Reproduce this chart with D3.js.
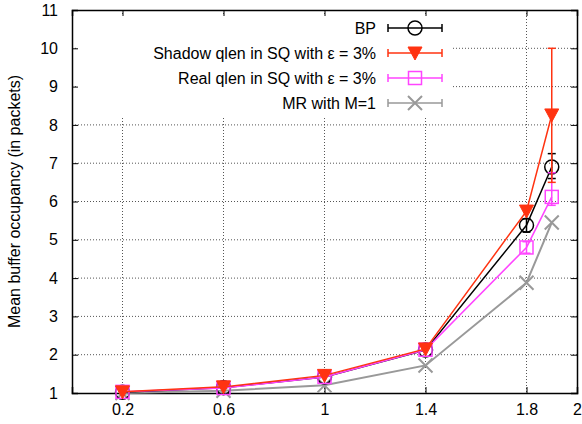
<!DOCTYPE html>
<html>
<head>
<meta charset="utf-8">
<script src="https://cdn.jsdelivr.net/npm/d3@7"></script>
<style>
  body { margin: 0; background: #fff; }
  text { font-family: "Liberation Sans", Arial, sans-serif; fill: #000; }
  .grid line { stroke: #555; stroke-width: 1; stroke-dasharray: 1,2; }
</style>
</head>
<body>
<div id="chart"></div>
<script>
var width = 582, height = 424;
var plotLeft = 72, plotRight = 577, plotTop = 10, plotBottom = 393;

var xValues = [0.2, 0.6, 1, 1.4, 1.8, 1.9];
var xTicks = [0.2, 0.6, 1, 1.4, 1.8, 2];
var yTicks = [1, 2, 3, 4, 5, 6, 7, 8, 9, 10, 11];

var seriesNames = ['BP', 'Shadow qlen in SQ with \u03b5 = 3%', 'Real qlen in SQ with \u03b5 = 3%', 'MR with M=1'];
var bpValues = [1.02, 1.14, 1.42, 2.12, 5.38, 6.9];
var shadowValues = [1.03, 1.16, 1.46, 2.15, 5.75, 8.26];
var realValues = [1.03, 1.13, 1.42, 2.13, 4.8, 6.12];
var mrValues = [1.0, 1.06, 1.2, 1.72, 3.88, 5.45];
// error bars [low, high], null where no visible bar
var bpErr = [null, null, null, null, [5.2, 5.55], [6.6, 7.25]];
var shadowErr = [null, null, null, null, null, [6.5, 10]];
var realErr = [null, null, null, null, [4.65, 4.95], [5.9, 6.75]];
var mrErr = [null, null, null, null, null, null];

var colors = ['#000000', '#ff3311', '#ff44ff', '#999999'];
var shapes = ['circle', 'triangle', 'square', 'cross'];

var svg = d3.select('#chart')
  .append('svg')
  .attr('width', width)
  .attr('height', height);

var xScale = d3.scaleLinear().domain([0, 2]).range([plotLeft, plotRight]);
var yScale = d3.scaleLinear().domain([1, 11]).range([plotBottom, plotTop]);

// grid
var grid = svg.append('g').attr('class', 'grid');
grid.selectAll('.gx')
  .data(xTicks.filter(function (d) { return d < 2; }))
  .enter().append('line')
  .attr('x1', function (d) { return xScale(d); })
  .attr('x2', function (d) { return xScale(d); })
  .attr('y1', plotTop).attr('y2', plotBottom);
grid.selectAll('.gy')
  .data(yTicks.filter(function (d) { return d > 1 && d < 11; }))
  .enter().append('line')
  .attr('y1', function (d) { return yScale(d); })
  .attr('y2', function (d) { return yScale(d); })
  .attr('x1', plotLeft).attr('x2', plotRight);

// legend background hides the grid
var legendX = 415, legendRows = [28, 53, 78, 103];
svg.append('rect')
  .attr('x', plotLeft + 6).attr('y', plotTop + 5)
  .attr('width', 452 - plotLeft - 6).attr('height', 103)
  .attr('fill', '#fff');

// axes with inward ticks on all sides
var xAxisB = d3.axisBottom(xScale).tickValues(xTicks).tickSize(-6).tickPadding(11)
  .tickFormat(d3.format('~g'));
var xAxisT = d3.axisTop(xScale).tickValues(xTicks).tickSize(-6).tickFormat('');
var yAxisL = d3.axisLeft(yScale).tickValues(yTicks).tickSize(-6).tickPadding(14);
var yAxisR = d3.axisRight(yScale).tickValues(yTicks).tickSize(-6).tickFormat('');

function styleAxis(g) {
  g.select('.domain').attr('stroke', '#000').attr('stroke-width', 1.5);
  g.selectAll('.tick line').attr('stroke', '#000').attr('stroke-width', 1);
  g.selectAll('.tick text').style('font-size', '16px')
    .style('font-family', '"Liberation Sans", Arial, sans-serif');
}

svg.append('g').attr('transform', 'translate(0,' + plotBottom + ')').call(xAxisB).call(styleAxis);
svg.append('g').attr('transform', 'translate(0,' + plotTop + ')').call(xAxisT).call(styleAxis);
svg.append('g').attr('transform', 'translate(' + plotLeft + ',0)').call(yAxisL).call(styleAxis);
svg.append('g').attr('transform', 'translate(' + plotRight + ',0)').call(yAxisR).call(styleAxis);

svg.append('text')
  .attr('transform', 'translate(20,' + ((plotTop + plotBottom) / 2) + ') rotate(-90)')
  .attr('text-anchor', 'middle')
  .style('font-size', '16px')
  .text('Mean buffer occupancy (in packets)');

function drawMarker(g, shape, color, x, y) {
  if (shape === 'circle') {
    g.append('circle').attr('cx', x).attr('cy', y).attr('r', 7)
      .attr('fill', 'none').attr('stroke', color).attr('stroke-width', 1.5);
  } else if (shape === 'triangle') {
    g.append('path')
      .attr('d', 'M' + (x - 7) + ',' + (y - 6) + 'L' + (x + 7) + ',' + (y - 6) + 'L' + x + ',' + (y + 7) + 'Z')
      .attr('fill', color).attr('stroke', color);
  } else if (shape === 'square') {
    g.append('rect').attr('x', x - 6.5).attr('y', y - 6.5).attr('width', 13).attr('height', 13)
      .attr('fill', 'none').attr('stroke', color).attr('stroke-width', 1.5);
  } else {
    g.append('path')
      .attr('d', 'M' + (x - 7) + ',' + (y - 7) + 'L' + (x + 7) + ',' + (y + 7) +
        'M' + (x - 7) + ',' + (y + 7) + 'L' + (x + 7) + ',' + (y - 7))
      .attr('stroke', color).attr('stroke-width', 2);
  }
}

var allValues = [bpValues, shadowValues, realValues, mrValues];
var allErr = [bpErr, shadowErr, realErr, mrErr];
var order = [3, 0, 2, 1];

var line = d3.line()
  .x(function (d) { return xScale(d[0]); })
  .y(function (d) { return yScale(d[1]); });

order.forEach(function (s) {
  var g = svg.append('g');
  var pts = xValues.map(function (x, i) { return [x, allValues[s][i]]; });
  g.append('path')
    .attr('d', line(pts))
    .attr('fill', 'none')
    .attr('stroke', colors[s])
    .attr('stroke-width', s === 3 ? 2 : 1.5);
  allErr[s].forEach(function (e, i) {
    if (!e) return;
    var x = xScale(xValues[i]);
    g.append('line').attr('x1', x).attr('x2', x)
      .attr('y1', yScale(e[0])).attr('y2', yScale(e[1]))
      .attr('stroke', colors[s]).attr('stroke-width', 1.5);
    e.forEach(function (v) {
      g.append('line').attr('x1', x - 4).attr('x2', x + 4)
        .attr('y1', yScale(v)).attr('y2', yScale(v))
        .attr('stroke', colors[s]).attr('stroke-width', 1.5);
    });
  });
  pts.forEach(function (p) {
    drawMarker(g, shapes[s], colors[s], xScale(p[0]), yScale(p[1]));
  });
});

// legend
seriesNames.forEach(function (name, i) {
  var y = legendRows[i];
  var g = svg.append('g');
  g.append('text')
    .attr('x', 376).attr('y', y + 6)
    .attr('text-anchor', 'end')
    .style('font-size', '16px')
    .text(name);
  g.append('line').attr('x1', 388).attr('x2', 442).attr('y1', y).attr('y2', y)
    .attr('stroke', colors[i]).attr('stroke-width', 1.5);
  [388, 442].forEach(function (x) {
    g.append('line').attr('x1', x).attr('x2', x).attr('y1', y - 4).attr('y2', y + 4)
      .attr('stroke', colors[i]).attr('stroke-width', 1.5);
  });
  drawMarker(g, shapes[i], colors[i], legendX, y);
});
</script>
</body>
</html>
